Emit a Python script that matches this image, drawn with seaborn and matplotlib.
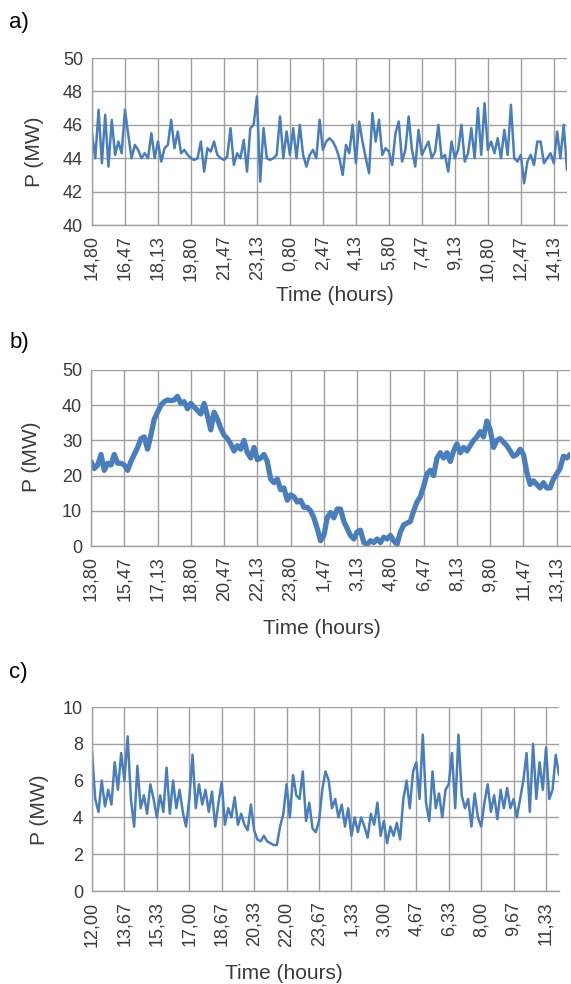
import numpy as np
import matplotlib
matplotlib.use("Agg")
import matplotlib.pyplot as plt
import pandas as pd
import seaborn as sns

# samples every 10 minutes over 24 hours
hours = np.arange(145) / 6

p_a = [45.5, 44.0, 46.9, 43.7, 46.6, 43.5, 46.3, 44.2, 45.0, 44.3,
       46.9, 45.4, 44.0, 44.8, 44.5, 44.0, 44.3, 44.0, 45.5, 44.0,
       45.0, 43.8, 44.6, 44.8, 46.3, 44.6, 45.6, 44.3, 44.5, 44.2,
       44.0, 43.9, 44.0, 45.0, 43.2, 44.6, 44.4, 45.0, 44.2, 44.0,
       43.9, 44.1, 45.8, 43.6, 44.3, 44.0, 45.1, 43.2, 45.8, 46.0,
       47.7, 42.6, 45.8, 44.0, 43.9, 44.0, 44.2, 46.5, 44.0, 45.6,
       44.2, 45.8, 44.0, 46.0, 44.2, 43.5, 44.2, 44.5, 44.0, 46.3,
       44.5, 45.0,
       45.2, 45.0, 44.6, 44.0, 43.0, 44.8, 44.3, 46.0, 43.7, 46.2,
       45.0, 44.0, 43.1, 46.7, 45.0, 46.3, 44.2, 44.6, 44.4, 43.6,
       45.5, 46.2, 43.8, 44.5, 46.5, 44.5, 43.5, 45.7, 44.2, 44.6,
       45.0, 44.0, 44.4, 46.0, 44.0, 44.2, 43.2, 45.0, 44.0, 44.5,
       46.0, 43.8, 44.3, 45.8, 44.0, 47.0, 44.2, 47.3, 44.5, 45.0,
       44.3, 45.2, 44.0, 45.7, 44.2, 47.2, 44.0, 43.8, 44.2, 42.5,
       43.8, 44.2, 43.6, 45.0, 45.0, 43.7, 44.0, 44.3, 43.7, 45.6,
       44.0, 46.0, 43.3]

p_b = [24, 22, 23, 26, 21.5, 23.5, 23, 26, 23.5, 23.5,
       23, 21.5, 24, 26, 28, 30.5, 31, 27.5, 31.5, 36,
       38, 40, 41, 41.5, 41.3, 41.5, 42.5, 40.5, 41, 39,
       40.5, 39.5, 38.5, 37.5, 40.5, 37, 33, 38, 36, 33.5,
       31.5, 30.5, 29, 27, 28.5, 27.5, 30, 26.5, 25, 28,
       24.5, 25, 26, 24, 19, 18, 19, 16, 16.5, 13,
       14.5, 14, 12.5, 13, 11, 11, 10, 8, 5, 1.5,
       3, 8, 9.5,
       8, 10.5, 10.5, 7, 5, 3, 2, 4, 4.5, 1,
       0.5, 1.5, 1, 2, 1, 2.5, 2, 3, 1.5, 0.5,
       4, 6, 6.5, 7, 10, 12.5, 14, 17, 20.5, 21.5,
       20, 25, 26.5, 25, 26.5, 24, 27, 29, 26.5, 28,
       27, 28.5, 30, 31, 32.5, 31, 35.5, 33, 28, 30,
       30.5, 29.5, 28.5, 27, 25.5, 26, 27.5, 26, 21, 17.5,
       18.5, 17.5, 16.5, 18, 16.5, 16.5, 19, 20.5, 22, 25.5,
       25, 26]

p_c = [7.6, 5.0, 4.3, 6.0, 4.6, 5.5, 4.7, 7.0, 5.5, 7.5,
       6.0, 8.4, 5.0, 3.5, 6.8, 4.5, 5.2, 4.2, 5.8, 5.0,
       4.0, 5.2, 4.3, 6.7, 4.2, 6.0, 4.5, 5.5, 4.3, 3.5,
       5.0, 7.4, 4.5, 5.8, 4.7, 5.5, 4.3, 5.4, 3.5, 4.8,
       5.9, 3.6, 4.5, 4.0, 5.1, 3.6, 4.2, 3.6, 3.3, 4.7,
       3.3, 2.8, 2.7, 3.0, 2.7, 2.6, 2.5, 2.5, 3.5, 4.2,
       5.8, 4.0, 6.3, 5.2, 5.0, 6.5, 3.8, 4.8, 3.4, 3.2,
       3.8, 5.5, 6.5,
       6.0, 4.5, 5.0, 4.0, 4.7, 3.5, 4.5, 3.0, 4.0, 3.2,
       4.0, 3.5, 2.9, 4.2, 3.6, 4.8, 3.0, 3.8, 2.6, 3.5,
       3.0, 3.7, 2.8, 5.0, 6.0, 4.5, 6.5, 7.0, 5.0, 8.5,
       4.8, 3.8, 6.5, 4.5, 5.3, 4.0, 5.5, 5.8, 7.5, 4.5,
       8.5, 5.2, 4.5, 5.0, 3.5, 5.3, 4.0, 3.5, 4.8, 5.8,
       4.3, 5.2, 3.9, 5.5, 4.5, 5.6, 4.5, 5.0, 4.0, 5.0,
       6.0, 7.5, 4.3, 8.0, 5.0, 7.0, 5.5, 7.8, 5.0, 5.5,
       7.4, 6.3]

ticks_a = ["14,80", "16,47", "18,13", "19,80", "21,47", "23,13", "0,80", "2,47",
           "4,13", "5,80", "7,47", "9,13", "10,80", "12,47", "14,13"]
ticks_b = ["13,80", "15,47", "17,13", "18,80", "20,47", "22,13", "23,80", "1,47",
           "3,13", "4,80", "6,47", "8,13", "9,80", "11,47", "13,13"]
ticks_c = ["12,00", "13,67", "15,33", "17,00", "18,67", "20,33", "22,00", "23,67",
           "1,33", "3,00", "4,67", "6,33", "8,00", "9,67", "11,33"]

sns.set_style("white")
plt.rcParams['font.family'] = ['Liberation Sans', 'DejaVu Sans']

blue = "#4a7ebb"
grid = "#a0a0a0"
txt = "#3a3a3a"

fig = plt.figure(figsize=(5.71, 9.84), dpi=100)

panels = [
    ("a)", p_a, ticks_a, (40, 50), np.arange(40, 51, 2), 1.8,
     [0.1611, 0.7713, 0.8319, 0.1697], (-0.100, 0.437), (0.512, -0.365), 0.988),
    ("b)", p_b, ticks_b, (0, 50), np.arange(0, 51, 10), 3.8,
     [0.1594, 0.4451, 0.8389, 0.1789], (-0.104, 0.506), (0.482, -0.415), 0.663),
    ("c)", p_c, ticks_c, (0, 10), np.arange(0, 11, 2), 1.8,
     [0.1611, 0.0945, 0.8179, 0.1870], (-0.092, 0.44), (0.411, -0.398), 0.327),
]

for tag, vals, labels, ylim, yticks, lw, rect, ylab, xlab, tag_y in panels:
    ax = fig.add_axes(rect)
    df = pd.DataFrame({"t": hours, "P": vals})
    sns.lineplot(data=df, x="t", y="P", ax=ax, color=blue, linewidth=lw,
                 estimator=None, solid_joinstyle="round", solid_capstyle="round")
    ax.set_xlim(0, 24)
    ax.set_ylim(*ylim)
    ax.set_xticks(np.arange(15) * 5 / 3)
    ax.set_xticklabels(labels, rotation=90)
    ax.set_yticks(yticks)
    ax.set_axisbelow(True)
    ax.grid(True, color=grid, linewidth=1.0)
    for s in ["top", "right"]:
        ax.spines[s].set_visible(False)
    for s in ["left", "bottom"]:
        ax.spines[s].set_color(grid)
        ax.spines[s].set_linewidth(1.0)
    ax.tick_params(axis="both", which="both", length=4.5, width=1.0, color=grid,
                   labelsize=13, labelcolor=txt, direction="out")
    ax.tick_params(axis="y", pad=2)
    ax.tick_params(axis="x", pad=3)
    ax.set_ylabel("P (MW)", fontsize=15, color=txt)
    ax.set_xlabel("Time (hours)", fontsize=15, color=txt)
    ax.yaxis.set_label_coords(*ylab)
    ax.xaxis.set_label_coords(*xlab)
    fig.text(0.016, tag_y, tag, fontsize=16, color="black", va="top", ha="left")

fig.savefig("out.png", dpi=100)
